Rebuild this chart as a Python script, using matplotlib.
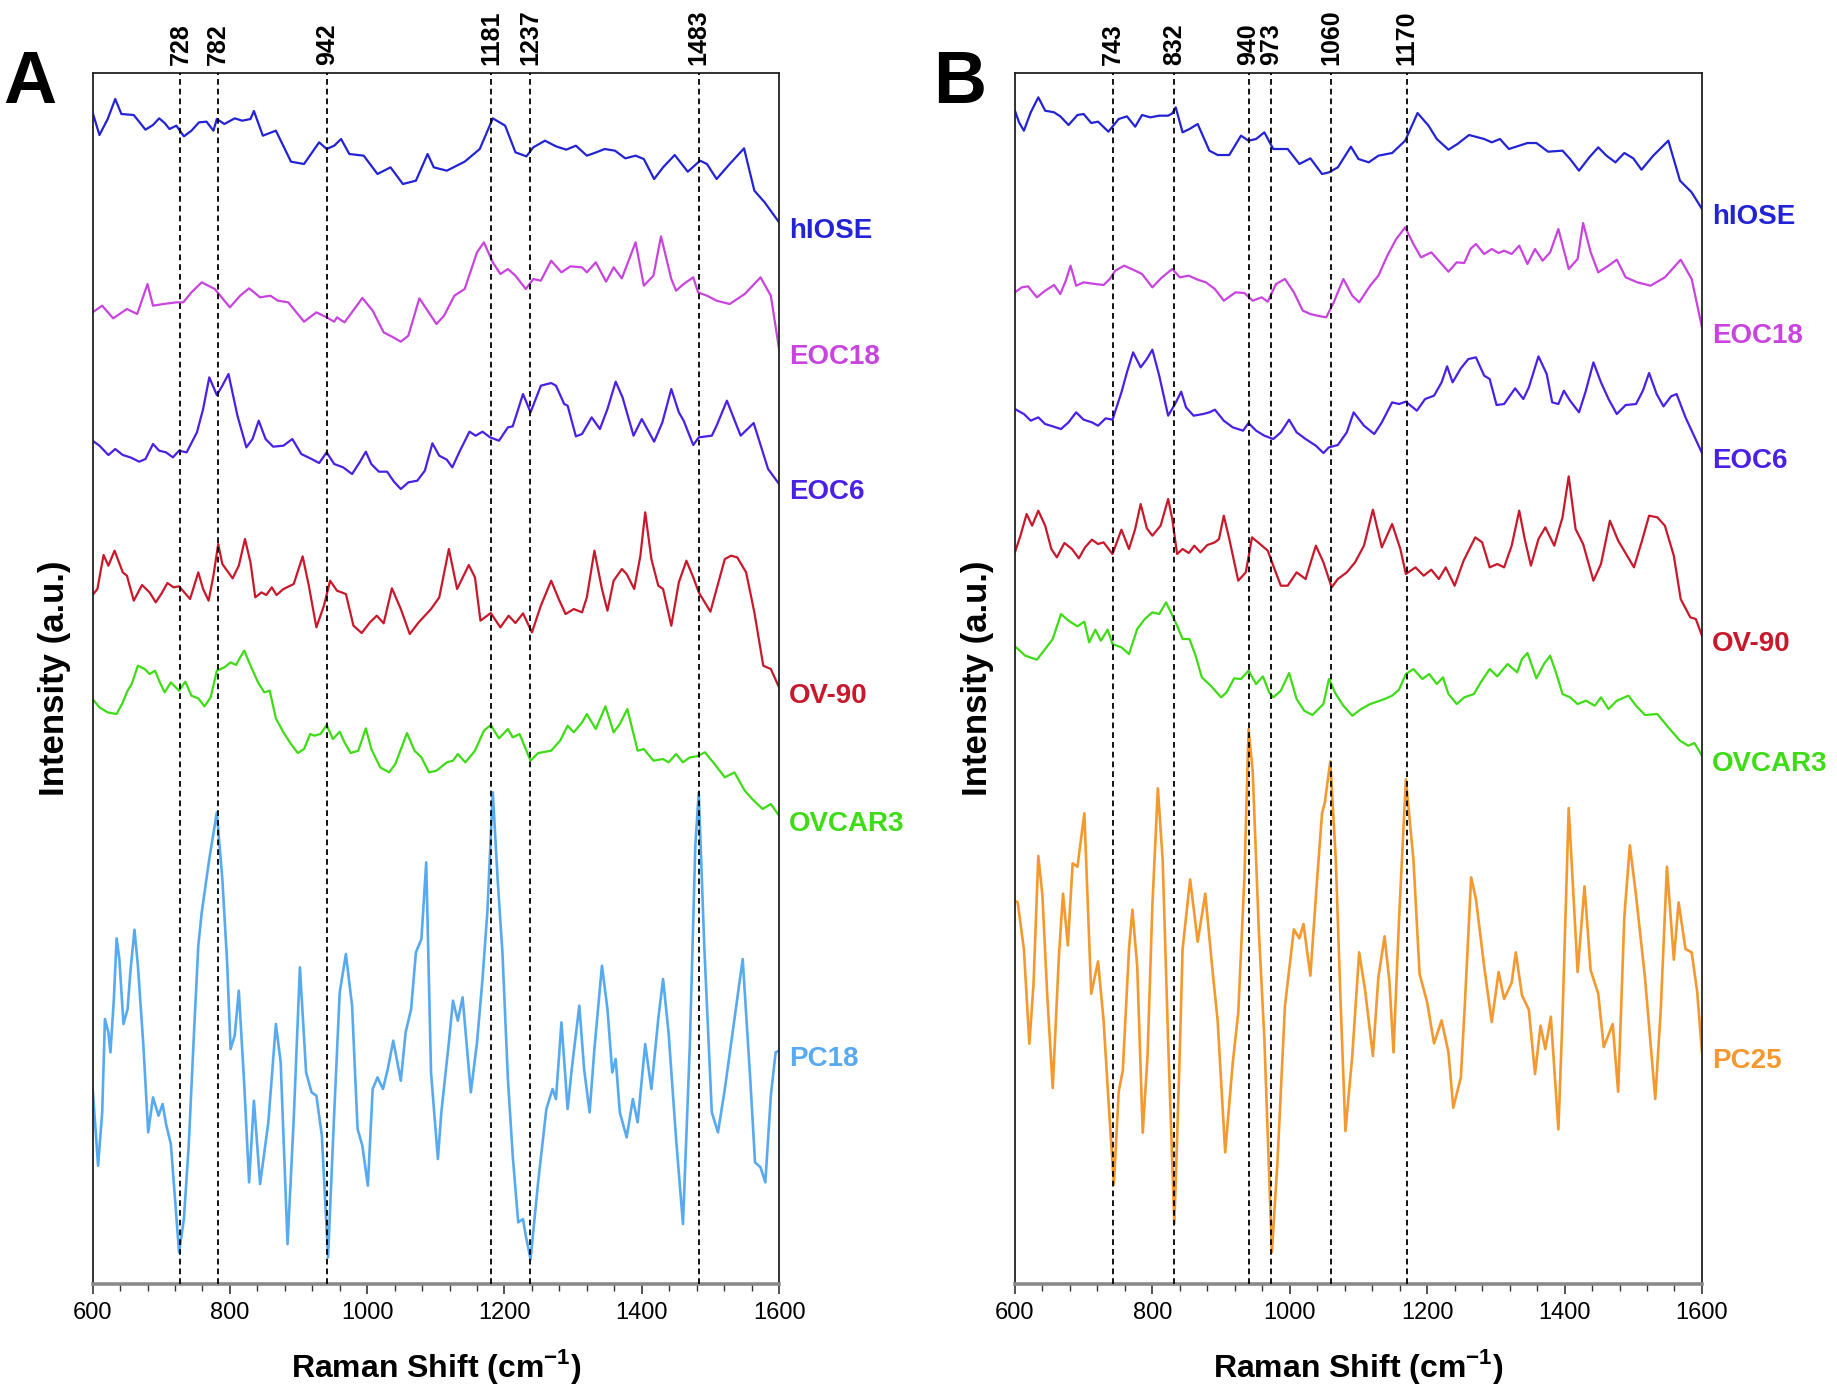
import matplotlib
matplotlib.use('Agg')
import matplotlib.pyplot as plt
from matplotlib.ticker import MultipleLocator

plt.rcParams['font.family'] = ['Liberation Sans', 'DejaVu Sans']
plt.rcParams['mathtext.fontset'] = 'custom'
plt.rcParams['mathtext.rm'] = 'Liberation Sans'
plt.rcParams['mathtext.bf'] = 'Liberation Sans:bold'

# ---------------- panel A spectra (Raman shift, offset intensity a.u.) ----------------
a_hiose_x = [600, 610, 622, 633, 642, 660, 677, 688, 697, 705, 712, 722, 733, 744, 755, 766, 776, 781, 792, 807,
             818, 830, 835, 848, 867, 889, 908, 930, 941, 952, 962, 974, 995, 1015, 1034, 1052, 1071, 1088, 1097,
             1116, 1142, 1164, 1183, 1201, 1216, 1232, 1242, 1259, 1275, 1290, 1304, 1320, 1331, 1346, 1361, 1376,
             1391, 1403, 1418, 1431, 1448, 1467, 1485, 1495, 1509, 1528, 1549, 1564, 1579, 1600]
a_hiose_y = [3515, 3447, 3495, 3555, 3510, 3507, 3463, 3477, 3497, 3483, 3465, 3475, 3443, 3460, 3485, 3487, 3460,
             3495, 3480, 3497, 3490, 3495, 3519, 3445, 3460, 3367, 3360, 3425, 3405, 3415, 3435, 3390, 3385, 3330,
             3350, 3300, 3310, 3390, 3350, 3340, 3367, 3405, 3497, 3475, 3395, 3383, 3410, 3430, 3413, 3403, 3415,
             3385, 3393, 3405, 3400, 3377, 3385, 3375, 3315, 3350, 3387, 3337, 3370, 3360, 3315, 3360, 3407, 3280,
             3245, 3185]

a_eoc18_x = [600, 614, 630, 650, 665, 680, 688, 703, 722, 732, 744, 759, 778, 800, 815, 828, 844, 859, 870, 885,
             908, 926, 941, 952, 956, 967, 993, 1008, 1024, 1038, 1049, 1060, 1076, 1088, 1101, 1112, 1127, 1142,
             1160, 1170, 1183, 1194, 1205, 1216, 1231, 1242, 1253, 1268, 1283, 1296, 1313, 1320, 1333, 1348, 1359,
             1371, 1391, 1403, 1417, 1428, 1443, 1450, 1461, 1475, 1482, 1495, 1509, 1528, 1550, 1573, 1588, 1600]
a_eoc18_y = [2915, 2935, 2897, 2925, 2910, 3000, 2935, 2940, 2945, 2945, 2975, 3005, 2985, 2930, 2965, 2987, 2960,
             2965, 2950, 2945, 2887, 2915, 2900, 2887, 2900, 2885, 2958, 2920, 2855, 2840, 2827, 2845, 2957, 2920,
             2880, 2905, 2965, 2985, 3095, 3125, 3065, 3030, 3045, 3025, 2985, 3015, 3010, 3070, 3035, 3053, 3050,
             3035, 3065, 3007, 3050, 3017, 3125, 2995, 3025, 3143, 3015, 2980, 3000, 3020, 2975, 2965, 2950, 2940,
             2970, 3020, 2965, 2805]

a_eoc6_x = [600, 610, 623, 633, 644, 655, 668, 677, 688, 697, 707, 717, 726, 737, 752, 761, 770, 781, 789, 798,
            811, 824, 833, 842, 852, 863, 878, 891, 904, 919, 930, 941, 952, 965, 978, 989, 998, 1006, 1017, 1029,
            1039, 1049, 1060, 1073, 1084, 1095, 1105, 1116, 1124, 1134, 1149, 1158, 1168, 1179, 1192, 1205, 1212,
            1227, 1238, 1253, 1268, 1275, 1287, 1292, 1304, 1313, 1327, 1339, 1350, 1362, 1372, 1388, 1400, 1418,
            1430, 1443, 1454, 1461, 1475, 1483, 1502, 1509, 1524, 1544, 1563, 1584, 1600]
a_eoc6_y = [2530, 2515, 2487, 2505, 2487, 2480, 2467, 2475, 2520, 2500, 2495, 2480, 2500, 2495, 2555, 2625, 2720,
            2667, 2695, 2730, 2605, 2510, 2535, 2590, 2535, 2512, 2515, 2535, 2490, 2475, 2463, 2495, 2460, 2450,
            2430, 2465, 2497, 2460, 2437, 2437, 2407, 2385, 2405, 2410, 2440, 2522, 2485, 2473, 2450, 2495, 2557,
            2545, 2557, 2540, 2530, 2570, 2573, 2670, 2615, 2695, 2703, 2695, 2640, 2635, 2543, 2550, 2600, 2565,
            2625, 2707, 2660, 2545, 2595, 2527, 2585, 2685, 2615, 2590, 2517, 2540, 2545, 2575, 2650, 2545, 2583,
            2445, 2400]

a_ov90_x = [600, 607, 616, 623, 632, 644, 650, 660, 672, 683, 692, 700, 709, 718, 726, 742, 754, 761, 769, 776,
            783, 789, 796, 804, 813, 822, 830, 837, 846, 853, 861, 868, 878, 893, 906, 915, 926, 937, 946, 956,
            969, 980, 992, 1004, 1014, 1024, 1036, 1049, 1062, 1075, 1093, 1105, 1119, 1131, 1148, 1157, 1165,
            1180, 1194, 1206, 1216, 1227, 1240, 1253, 1268, 1279, 1289, 1301, 1313, 1320, 1331, 1342, 1350, 1359,
            1371, 1378, 1389, 1398, 1405, 1414, 1424, 1431, 1443, 1454, 1465, 1475, 1483, 1500, 1509, 1521, 1530,
            1539, 1552, 1564, 1577, 1588, 1600]
a_ov90_y = [2067, 2085, 2187, 2155, 2200, 2135, 2125, 2050, 2097, 2075, 2045, 2070, 2103, 2090, 2093, 2055, 2135,
            2085, 2050, 2125, 2220, 2160, 2140, 2117, 2155, 2235, 2165, 2060, 2075, 2067, 2090, 2067, 2085, 2100,
            2183, 2095, 1970, 2035, 2110, 2080, 2070, 1975, 1953, 1985, 2005, 1982, 2087, 2025, 1950, 1985, 2025,
            2060, 2205, 2085, 2157, 2120, 1990, 2013, 1970, 2005, 1983, 2012, 1955, 2035, 2110, 2055, 2010, 2025,
            2015, 2060, 2200, 2085, 2020, 2110, 2145, 2130, 2085, 2185, 2315, 2175, 2095, 2085, 1975, 2105, 2170,
            2120, 2075, 2017, 2085, 2175, 2185, 2180, 2135, 2015, 1855, 1845, 1790]

a_ovcar3_x = [600, 610, 622, 635, 644, 651, 657, 666, 676, 683, 691, 698, 705, 714, 726, 735, 744, 754, 763, 772,
              781, 792, 801, 809, 815, 821, 828, 841, 850, 858, 867, 878, 889, 899, 908, 917, 923, 932, 941, 950,
              960, 967, 976, 987, 998, 1006, 1019, 1032, 1041, 1058, 1069, 1079, 1090, 1101, 1116, 1125, 1132,
              1143, 1157, 1170, 1180, 1192, 1205, 1212, 1222, 1238, 1249, 1268, 1281, 1292, 1301, 1313, 1320, 1333,
              1347, 1359, 1368, 1379, 1394, 1403, 1417, 1431, 1439, 1450, 1460, 1470, 1480, 1492, 1506, 1521, 1535,
              1550, 1561, 1576, 1588, 1600]
a_ovcar3_y = [1755, 1730, 1715, 1710, 1745, 1780, 1800, 1855, 1845, 1830, 1840, 1805, 1775, 1805, 1780, 1807, 1765,
              1757, 1733, 1760, 1840, 1850, 1865, 1857, 1880, 1900, 1865, 1805, 1775, 1780, 1697, 1655, 1620, 1593,
              1605, 1650, 1645, 1650, 1677, 1635, 1657, 1625, 1593, 1600, 1667, 1605, 1550, 1535, 1560, 1653, 1600,
              1580, 1535, 1540, 1565, 1570, 1590, 1565, 1600, 1660, 1677, 1637, 1665, 1640, 1650, 1570, 1593, 1600,
              1630, 1675, 1655, 1685, 1710, 1665, 1733, 1655, 1680, 1725, 1600, 1605, 1570, 1575, 1565, 1590, 1565,
              1580, 1583, 1595, 1560, 1520, 1535, 1480, 1455, 1425, 1440, 1405]

a_pc18_x = [600, 608, 614, 618, 623, 626, 631, 635, 639, 645, 651, 655, 661, 666, 674, 681, 688, 696, 702, 707,
            714, 726, 733, 740, 748, 754, 759, 770, 781, 789, 796, 801, 807, 813, 821, 828, 835, 844, 856, 867,
            874, 884, 893, 902, 911, 919, 926, 934, 943, 952, 960, 969, 978, 986, 993, 1001, 1008, 1015, 1023,
            1030, 1038, 1049, 1056, 1064, 1071, 1079, 1086, 1093, 1103, 1108, 1119, 1125, 1132, 1139, 1148, 1151,
            1160, 1168, 1175, 1183, 1190, 1197, 1205, 1212, 1220, 1227, 1231, 1238, 1249, 1261, 1270, 1275, 1283,
            1292, 1298, 1309, 1316, 1324, 1331, 1342, 1350, 1357, 1362, 1368, 1378, 1387, 1394, 1405, 1414, 1424,
            1431, 1439, 1450, 1460, 1470, 1478, 1483, 1491, 1502, 1511, 1521, 1535, 1547, 1558, 1565, 1573, 1580,
            1588, 1595, 1600]
a_pc18_y = [590, 355, 515, 795, 755, 695, 855, 1037, 975, 780, 825, 935, 1063, 955, 715, 455, 560, 505, 540, 480,
            420, 95, 195, 415, 765, 1015, 1115, 1275, 1415, 1215, 965, 705, 745, 880, 595, 305, 550, 300, 485, 780,
            665, 120, 495, 950, 635, 575, 565, 445, 80, 515, 875, 990, 835, 465, 415, 295, 585, 620, 585, 645, 730,
            610, 755, 825, 995, 1035, 1265, 635, 375, 515, 725, 850, 790, 860, 645, 575, 725, 915, 1115, 1475, 1215,
            995, 615, 385, 185, 195, 145, 75, 305, 525, 585, 555, 785, 525, 645, 835, 645, 515, 705, 955, 825, 635,
            675, 515, 440, 555, 485, 720, 585, 795, 915, 755, 435, 180, 715, 1315, 1475, 1015, 515, 455, 585, 795,
            975, 615, 365, 350, 305, 565, 695, 700]

# ---------------- panel B spectra ----------------
b_hiose_x = [600, 606, 613, 623, 634, 644, 657, 666, 678, 691, 700, 711, 721, 736, 751, 763, 775, 785, 797, 810,
             823, 829, 834, 844, 854, 866, 883, 895, 912, 929, 940, 951, 963, 976, 997, 1014, 1030, 1047, 1057,
             1070, 1089, 1100, 1115, 1129, 1149, 1168, 1186, 1202, 1214, 1231, 1244, 1261, 1283, 1294, 1306, 1319,
             1334, 1346, 1359, 1376, 1397, 1408, 1421, 1436, 1449, 1461, 1474, 1487, 1500, 1512, 1529, 1551, 1568,
             1585, 1600]
b_hiose_y = [3520, 3485, 3460, 3515, 3560, 3520, 3515, 3503, 3477, 3507, 3510, 3483, 3487, 3457, 3495, 3503, 3472,
             3507, 3500, 3505, 3505, 3512, 3530, 3455, 3465, 3480, 3400, 3387, 3387, 3445, 3430, 3435, 3455, 3405,
             3405, 3360, 3377, 3330, 3335, 3350, 3412, 3375, 3365, 3385, 3393, 3430, 3513, 3475, 3435, 3403, 3420,
             3447, 3435, 3425, 3435, 3405, 3415, 3423, 3423, 3397, 3400, 3375, 3340, 3380, 3410, 3385, 3365, 3393,
             3377, 3343, 3385, 3430, 3310, 3275, 3225]

b_eoc18_x = [600, 610, 619, 632, 644, 657, 666, 674, 681, 689, 700, 717, 729, 738, 746, 759, 772, 785, 800, 814,
             829, 840, 853, 866, 878, 891, 904, 921, 934, 946, 959, 968, 980, 993, 1006, 1019, 1030, 1040, 1053,
             1064, 1078, 1091, 1101, 1117, 1129, 1142, 1155, 1168, 1180, 1191, 1206, 1219, 1231, 1243, 1254, 1263,
             1271, 1283, 1294, 1304, 1312, 1323, 1334, 1346, 1357, 1368, 1379, 1391, 1406, 1419, 1427, 1438, 1449,
             1464, 1476, 1489, 1506, 1525, 1546, 1569, 1585, 1600]
b_eoc18_y = [2975, 2990, 2993, 2960, 2980, 2997, 2970, 3010, 3055, 2995, 3005, 3000, 2997, 3015, 3040, 3055, 3043,
             3030, 2990, 3020, 3045, 3020, 3025, 3013, 3005, 2985, 2950, 2975, 2973, 2950, 2960, 2947, 3000, 3015,
             2975, 2920, 2910, 2905, 2900, 2945, 3015, 2965, 2945, 2995, 3025, 3085, 3135, 3170, 3120, 3080, 3095,
             3065, 3037, 3065, 3063, 3105, 3120, 3090, 3105, 3093, 3100, 3090, 3115, 3060, 3105, 3070, 3095, 3165,
             3045, 3075, 3183, 3095, 3035, 3055, 3073, 3020, 3005, 2995, 3020, 3073, 3015, 2870]

b_eoc6_x = [600, 613, 623, 634, 644, 655, 667, 678, 689, 700, 712, 721, 732, 742, 755, 763, 772, 783, 792, 800,
            810, 823, 833, 842, 849, 860, 874, 883, 891, 904, 917, 932, 940, 951, 963, 976, 987, 999, 1010, 1023,
            1038, 1049, 1057, 1070, 1083, 1093, 1108, 1123, 1134, 1149, 1159, 1169, 1185, 1197, 1210, 1221, 1229,
            1237, 1249, 1260, 1271, 1283, 1291, 1301, 1312, 1328, 1340, 1348, 1362, 1374, 1382, 1391, 1399, 1408,
            1421, 1431, 1442, 1453, 1464, 1476, 1489, 1504, 1514, 1523, 1534, 1544, 1555, 1563, 1576, 1600]
b_eoc6_y = [2625, 2610, 2590, 2600, 2580, 2573, 2565, 2585, 2615, 2593, 2585, 2575, 2597, 2593, 2675, 2735, 2795,
            2750, 2775, 2803, 2725, 2605, 2640, 2677, 2630, 2605, 2610, 2615, 2623, 2590, 2570, 2560, 2583, 2560,
            2545, 2535, 2555, 2593, 2555, 2535, 2515, 2493, 2510, 2517, 2555, 2615, 2575, 2550, 2585, 2645, 2640,
            2647, 2620, 2655, 2665, 2705, 2753, 2705, 2747, 2775, 2780, 2725, 2715, 2637, 2640, 2687, 2655, 2690,
            2783, 2730, 2645, 2640, 2680, 2650, 2615, 2680, 2765, 2705, 2655, 2610, 2637, 2640, 2680, 2733, 2670,
            2633, 2663, 2670, 2600, 2493]

b_ov90_x = [600, 608, 617, 625, 634, 644, 653, 661, 672, 683, 693, 702, 712, 721, 729, 742, 755, 766, 775, 783,
            792, 800, 812, 823, 829, 836, 844, 853, 861, 870, 880, 891, 897, 904, 912, 925, 936, 945, 955, 968,
            976, 987, 997, 1010, 1023, 1038, 1049, 1061, 1070, 1083, 1095, 1108, 1121, 1134, 1149, 1161, 1169,
            1183, 1195, 1206, 1217, 1227, 1240, 1253, 1270, 1280, 1291, 1302, 1312, 1323, 1334, 1342, 1351, 1362,
            1372, 1385, 1397, 1406, 1416, 1427, 1442, 1453, 1466, 1478, 1491, 1501, 1512, 1523, 1535, 1546, 1559,
            1569, 1583, 1591, 1600]
b_ov90_y = [2195, 2245, 2310, 2275, 2320, 2275, 2205, 2180, 2223, 2205, 2177, 2210, 2233, 2220, 2225, 2190, 2263,
            2205, 2265, 2340, 2267, 2245, 2275, 2355, 2295, 2190, 2205, 2193, 2215, 2195, 2217, 2225, 2235, 2305,
            2235, 2110, 2135, 2240, 2223, 2200, 2155, 2095, 2095, 2135, 2115, 2215, 2165, 2090, 2115, 2135, 2165,
            2215, 2323, 2210, 2280, 2205, 2130, 2150, 2125, 2143, 2115, 2150, 2095, 2170, 2240, 2225, 2150, 2160,
            2150, 2215, 2320, 2235, 2155, 2235, 2270, 2215, 2300, 2423, 2265, 2220, 2110, 2160, 2290, 2230, 2185,
            2150, 2225, 2305, 2300, 2275, 2185, 2055, 2000, 1995, 1945]

b_ovcar3_x = [600, 615, 632, 644, 655, 667, 678, 691, 701, 708, 717, 725, 735, 742, 755, 766, 778, 789, 800, 810,
              820, 827, 836, 844, 854, 863, 872, 885, 900, 908, 919, 929, 940, 951, 961, 970, 976, 987, 999, 1010,
              1021, 1033, 1049, 1057, 1067, 1078, 1091, 1104, 1117, 1127, 1138, 1149, 1159, 1169, 1180, 1193, 1203,
              1214, 1223, 1231, 1243, 1254, 1268, 1278, 1291, 1302, 1317, 1331, 1338, 1346, 1359, 1370, 1379, 1389,
              1397, 1408, 1419, 1431, 1444, 1453, 1464, 1476, 1493, 1504, 1517, 1535, 1551, 1568, 1580, 1589, 1600]
b_ovcar3_y = [1913, 1885, 1873, 1905, 1935, 2010, 1990, 1973, 1987, 1925, 1963, 1930, 1963, 1920, 1910, 1890, 1965,
              1995, 2015, 2010, 2045, 2015, 1975, 1935, 1935, 1885, 1820, 1795, 1760, 1775, 1817, 1815, 1840, 1800,
              1823, 1775, 1760, 1780, 1833, 1755, 1720, 1707, 1740, 1815, 1770, 1735, 1705, 1725, 1740, 1747, 1755,
              1765, 1783, 1830, 1845, 1815, 1830, 1800, 1820, 1770, 1740, 1760, 1770, 1805, 1845, 1823, 1860, 1835,
              1875, 1893, 1817, 1860, 1885, 1825, 1770, 1760, 1740, 1750, 1735, 1760, 1725, 1750, 1765, 1735, 1707,
              1710, 1670, 1630, 1615, 1623, 1585]

b_pc25_x = [600, 604, 613, 621, 627, 634, 640, 647, 655, 664, 670, 677, 684, 691, 701, 711, 721, 729, 736, 744,
            751, 757, 766, 771, 778, 786, 793, 800, 808, 815, 823, 832, 839, 844, 855, 866, 877, 887, 895, 906,
            917, 925, 934, 940, 946, 955, 963, 974, 982, 993, 1006, 1014, 1020, 1030, 1040, 1047, 1051, 1059,
            1067, 1074, 1081, 1091, 1101, 1110, 1121, 1129, 1138, 1145, 1151, 1159, 1169, 1180, 1189, 1200, 1210,
            1221, 1231, 1238, 1249, 1255, 1264, 1271, 1283, 1294, 1304, 1312, 1323, 1329, 1338, 1348, 1357, 1365,
            1372, 1380, 1391, 1397, 1406, 1419, 1429, 1438, 1449, 1457, 1470, 1478, 1487, 1495, 1504, 1517, 1532,
            1540, 1549, 1559, 1566, 1576, 1585, 1593, 1600]
b_pc25_y = [1150, 1145, 1005, 721, 898, 1284, 1166, 866, 588, 984, 1171, 1016, 1262, 1252, 1412, 871, 968, 791,
            555, 298, 577, 641, 1005, 1123, 952, 454, 684, 1134, 1487, 1273, 727, 181, 630, 1005, 1214, 1027, 1171,
            952, 791, 395, 663, 813, 1220, 1664, 1541, 1059, 738, 95, 363, 834, 1064, 1037, 1080, 925, 1220, 1412,
            1444, 1568, 1273, 845, 459, 684, 995, 877, 684, 920, 1043, 909, 695, 1091, 1514, 1273, 930, 845, 722,
            791, 695, 529, 620, 845, 1220, 1155, 952, 786, 936, 855, 904, 995, 866, 823, 630, 775, 705, 802, 464,
            802, 1428, 936, 1193, 941, 871, 711, 780, 577, 1102, 1316, 1166, 920, 555, 823, 1252, 973, 1145, 1005,
            995, 877, 695]

a_names = ['hIOSE', 'EOC18', 'EOC6', 'OV-90', 'OVCAR3', 'PC18']
b_names = ['hIOSE', 'EOC18', 'EOC6', 'OV-90', 'OVCAR3', 'PC25']
a_peaks = [728, 782, 942, 1181, 1237, 1483]
b_peaks = [743, 832, 940, 973, 1060, 1170]

colors = {'hIOSE': '#2323d6', 'EOC18': '#c944de', 'EOC6': '#4a1fe6', 'OV-90': '#c8182b',
          'OVCAR3': '#3ddc14', 'PC18': '#58aaf0', 'PC25': '#f3992f'}

a_data = [(a_hiose_x, a_hiose_y), (a_eoc18_x, a_eoc18_y), (a_eoc6_x, a_eoc6_y),
          (a_ov90_x, a_ov90_y), (a_ovcar3_x, a_ovcar3_y), (a_pc18_x, a_pc18_y)]
b_data = [(b_hiose_x, b_hiose_y), (b_eoc18_x, b_eoc18_y), (b_eoc6_x, b_eoc6_y),
          (b_ov90_x, b_ov90_y), (b_ovcar3_x, b_ovcar3_y), (b_pc25_x, b_pc25_y)]

fig = plt.figure(figsize=(18.37, 13.88), dpi=100)
ax_a = fig.add_axes([0.0504, 0.0749, 0.3737, 0.8725])
ax_b = fig.add_axes([0.5525, 0.0749, 0.3740, 0.8725])


def draw_panel(ax, data, names, peaks):
    for (x, y), name in zip(data, names):
        lw = 1.9 if name.startswith('PC') else 1.6
        ax.plot(x, y, color=colors[name], lw=lw, zorder=2)
        ax.text(1.015, y[-1] - 25, name, transform=ax.get_yaxis_transform(), color=colors[name],
                fontsize=20, fontweight='bold', va='center', ha='left', clip_on=False)
    for p in peaks:
        ax.axvline(p, color='black', ls=(0, (3.2, 2.2)), lw=1.3, zorder=3)
        ax.text(p, 1.007, str(p), transform=ax.get_xaxis_transform(), rotation=90,
                ha='center', va='bottom', fontsize=18, fontweight='bold')
    ax.set_xlim(600, 1600)
    ax.set_ylim(0, 3633)
    ax.xaxis.set_major_locator(MultipleLocator(200))
    ax.xaxis.set_minor_locator(MultipleLocator(40))
    ax.set_yticks([])
    ax.tick_params(axis='x', which='major', direction='out', length=7, width=1.2, labelsize=17,
                   pad=6, colors='#333333', labelcolor='black')
    ax.tick_params(axis='x', which='minor', direction='out', length=5, width=1.0, colors='#333333')
    for side in ['top', 'left', 'right']:
        ax.spines[side].set_linewidth(1.3)
        ax.spines[side].set_color('#222222')
    ax.spines['bottom'].set_linewidth(2.6)
    ax.spines['bottom'].set_color('#8a8a8a')
    ax.set_xlabel('Raman Shift (cm$^{\\mathbf{-1}}$)', fontsize=23, fontweight='bold')
    ax.set_ylabel('Intensity (a.u.)', fontsize=25, fontweight='bold')
    ax.xaxis.label.set_va('center')
    ax.xaxis.set_label_coords(0.5, -0.068)
    ax.yaxis.set_label_coords(-0.031, 0.5)


draw_panel(ax_a, a_data, a_names, a_peaks)
draw_panel(ax_b, b_data, b_names, b_peaks)

fig.text(0.0016, 0.9398, 'A', fontsize=53, fontweight='bold', ha='left', va='center')
fig.text(0.508, 0.9398, 'B', fontsize=53, fontweight='bold', ha='left', va='center')

fig.savefig('out.png', dpi=100)
